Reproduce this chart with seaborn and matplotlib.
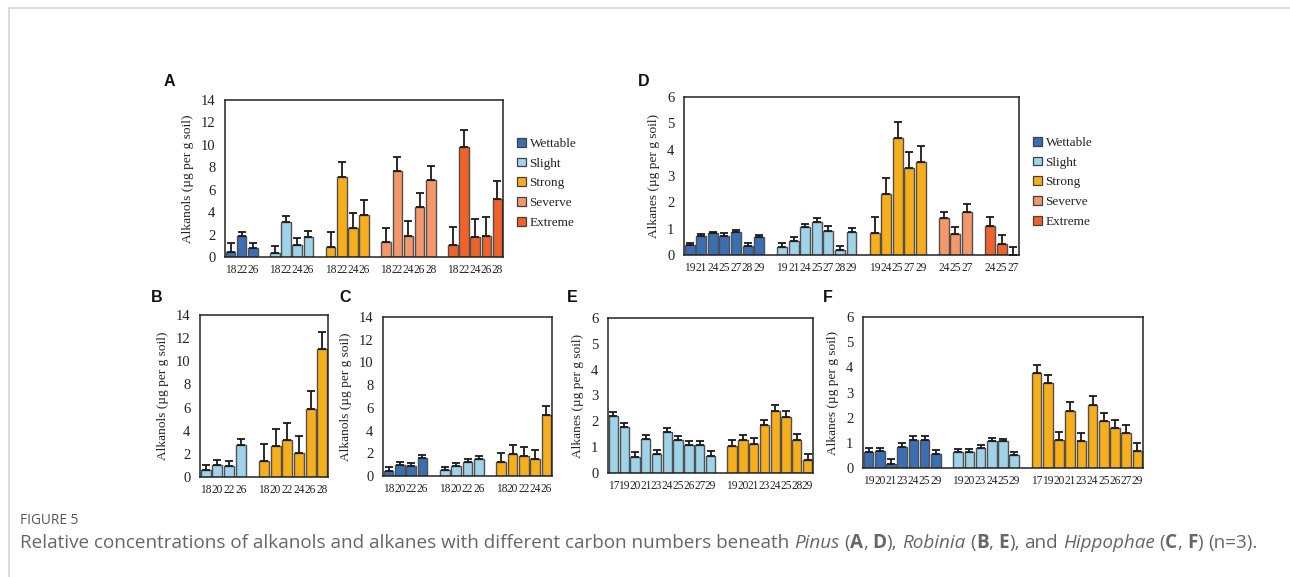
import numpy as np
import pandas as pd
import matplotlib
matplotlib.use("Agg")
import matplotlib.pyplot as plt
from matplotlib.patches import Patch
from matplotlib.lines import Line2D
import seaborn as sns

# ---------------- data ----------------
GROUPS = ["Wettable", "Slight", "Strong", "Severve", "Extreme"]
COLORS = ["#3b6fb3", "#9fd3ea", "#f6ae1c", "#f4976b", "#ef6229"]

# Panel A: alkanols, Pinus
a_wet_c = ["18", "22", "26"]
a_wet_v = [0.47, 1.84, 0.80]
a_wet_e = [0.78, 0.41, 0.42]
a_sli_c = ["18", "22", "24", "26"]
a_sli_v = [0.39, 3.12, 1.07, 1.75]
a_sli_e = [0.56, 0.56, 0.62, 0.59]
a_str_c = ["18", "22", "24", "26"]
a_str_v = [0.92, 7.15, 2.61, 3.77]
a_str_e = [1.31, 1.34, 1.31, 1.33]
a_sev_c = ["18", "22", "24", "26", "28"]
a_sev_v = [1.34, 7.66, 1.90, 4.42, 6.85]
a_sev_e = [1.24, 1.24, 1.28, 1.28, 1.25]
a_ext_c = ["18", "22", "24", "26", "28"]
a_ext_v = [1.07, 9.79, 1.78, 1.90, 5.19]
a_ext_e = [1.63, 1.57, 1.63, 1.63, 1.63]

# Panel D: alkanes, Pinus
d_wet_c = ["19", "21", "24", "25", "27", "28", "29"]
d_wet_v = [0.38, 0.71, 0.82, 0.74, 0.87, 0.34, 0.68]
d_wet_e = [0.09, 0.09, 0.06, 0.09, 0.08, 0.10, 0.08]
d_sli_c = ["19", "21", "24", "25", "27", "28", "29"]
d_sli_v = [0.29, 0.53, 1.05, 1.25, 0.93, 0.18, 0.87]
d_sli_e = [0.15, 0.16, 0.14, 0.15, 0.17, 0.16, 0.15]
d_str_c = ["19", "24", "25", "27", "29"]
d_str_v = [0.83, 2.30, 4.44, 3.32, 3.54]
d_str_e = [0.63, 0.62, 0.61, 0.61, 0.60]
d_sev_c = ["24", "25", "27"]
d_sev_v = [1.40, 0.79, 1.65]
d_sev_e = [0.25, 0.26, 0.27]
d_ext_c = ["24", "25", "27"]
d_ext_v = [1.10, 0.42, 0.00]
d_ext_e = [0.33, 0.34, 0.32]

# Panel B: alkanols, Robinia
b_sli_c = ["18", "20", "22", "26"]
b_sli_v = [0.58, 1.01, 0.98, 2.75]
b_sli_e = [0.49, 0.44, 0.44, 0.52]
b_str_c = ["18", "20", "22", "24", "26", "28"]
b_str_v = [1.39, 2.69, 3.18, 2.08, 5.86, 11.06]
b_str_e = [1.44, 1.47, 1.50, 1.45, 1.54, 1.44]

# Panel C: alkanols, Hippophae
c_wet_c = ["18", "20", "22", "26"]
c_wet_v = [0.44, 0.97, 0.91, 1.58]
c_wet_e = [0.38, 0.23, 0.26, 0.24]
c_sli_c = ["18", "20", "22", "26"]
c_sli_v = [0.50, 0.91, 1.23, 1.47]
c_sli_e = [0.26, 0.23, 0.27, 0.26]
c_str_c = ["18", "20", "22", "24", "26"]
c_str_v = [1.20, 1.94, 1.76, 1.50, 5.40]
c_str_e = [0.80, 0.82, 0.82, 0.79, 0.76]

# Panel E: alkanes, Robinia
e_sli_c = ["17", "19", "20", "21", "23", "24", "25", "26", "27", "29"]
e_sli_v = [2.21, 1.78, 0.63, 1.32, 0.72, 1.59, 1.26, 1.07, 1.07, 0.66]
e_sli_e = [0.15, 0.17, 0.18, 0.15, 0.18, 0.15, 0.16, 0.18, 0.18, 0.18]
e_str_c = ["19", "20", "21", "23", "24", "25", "28", "29"]
e_str_v = [1.05, 1.26, 1.11, 1.85, 2.39, 2.17, 1.29, 0.49]
e_str_e = [0.24, 0.22, 0.23, 0.21, 0.23, 0.22, 0.23, 0.25]

# Panel F: alkanes, Hippophae
f_wet_c = ["19", "20", "21", "23", "24", "25", "29"]
f_wet_v = [0.64, 0.66, 0.17, 0.85, 1.13, 1.11, 0.56]
f_wet_e = [0.15, 0.15, 0.17, 0.16, 0.15, 0.16, 0.17]
f_sli_c = ["19", "20", "23", "24", "25", "29"]
f_sli_v = [0.64, 0.64, 0.79, 1.07, 1.06, 0.52]
f_sli_e = [0.10, 0.10, 0.11, 0.12, 0.11, 0.10]
f_str_c = ["17", "19", "20", "21", "23", "24", "25", "26", "27", "29"]
f_str_v = [3.76, 3.39, 1.10, 2.28, 1.07, 2.52, 1.87, 1.59, 1.39, 0.66]
f_str_e = [0.35, 0.31, 0.33, 0.34, 0.33, 0.33, 0.33, 0.33, 0.33, 0.35]

YLAB_OL = "Alkanols (µg per g soil)"
YLAB_AN = "Alkanes (µg per g soil)"

# ---------------- style ----------------
W, H = 1290, 577
DPI = 100
sns.set_theme(style="white")
SERIF = ["Liberation Serif", "DejaVu Serif"]
plt.rcParams["font.family"] = SERIF
plt.rcParams["axes.linewidth"] = 1.0

fig = plt.figure(figsize=(W / DPI, H / DPI), dpi=DPI)
fig.patch.set_facecolor("white")
pal = dict(zip(GROUPS, COLORS))


def ax_at(left, right, top, bottom):
    return fig.add_axes([left / W, 1 - bottom / H, (right - left) / W, (bottom - top) / H])


def panel(ax, series, ymax, ystep, ylabel):
    rows, order, labels = [], [], []
    for k, (g, cs, vs, es) in enumerate(series):
        if k > 0:
            order.append(f"gap{k}")
            labels.append("")
        for c, v, e in zip(cs, vs, es):
            key = f"{g}-{c}"
            rows.append(dict(key=key, value=v, err=e, group=g))
            order.append(key)
            labels.append(c)
    df = pd.DataFrame(rows)
    sns.barplot(data=df, x="key", y="value", hue="group", order=order,
                hue_order=GROUPS, palette=pal, dodge=False, width=0.86,
                saturation=1, edgecolor="#505050", linewidth=1.0,
                legend=False, ax=ax, zorder=2)
    pos = [order.index(k) for k in df["key"]]
    ax.errorbar(pos, df["value"], yerr=[np.zeros(len(df)), df["err"]], fmt="none",
                ecolor="#1a1a1a", elinewidth=1.3, capsize=2.8, capthick=1.3, zorder=3)
    ax.set_xlim(-0.5, len(order) - 0.5)
    ax.set_ylim(0, ymax)
    ticks = np.arange(0, ymax + 0.01, ystep)
    ax.set_yticks(ticks)
    ax.set_yticklabels([f"{t:g}" for t in ticks])
    ax.set_xticks(range(len(order)))
    ax.set_xticklabels(labels)
    ax.tick_params(axis="x", length=0, pad=5, labelsize=8.3, colors="#222222")
    ax.tick_params(axis="y", length=0, pad=7, labelsize=10.5, colors="#222222")
    ax.set_xlabel("")
    ax.set_ylabel(ylabel, fontsize=9.6, color="#222222", labelpad=5)
    for s in ax.spines.values():
        s.set_color("#222222")
        s.set_linewidth(1.1)
        s.set_visible(True)
    ax.set_facecolor("white")


axA = ax_at(225, 503, 100, 257)
panel(axA, [("Wettable", a_wet_c, a_wet_v, a_wet_e),
            ("Slight", a_sli_c, a_sli_v, a_sli_e),
            ("Strong", a_str_c, a_str_v, a_str_e),
            ("Severve", a_sev_c, a_sev_v, a_sev_e),
            ("Extreme", a_ext_c, a_ext_v, a_ext_e)], 14, 2, YLAB_OL)

axD = ax_at(684, 1019, 97, 255)
panel(axD, [("Wettable", d_wet_c, d_wet_v, d_wet_e),
            ("Slight", d_sli_c, d_sli_v, d_sli_e),
            ("Strong", d_str_c, d_str_v, d_str_e),
            ("Severve", d_sev_c, d_sev_v, d_sev_e),
            ("Extreme", d_ext_c, d_ext_v, d_ext_e)], 6, 1, YLAB_AN)

axB = ax_at(200, 328, 315, 477)
panel(axB, [("Slight", b_sli_c, b_sli_v, b_sli_e),
            ("Strong", b_str_c, b_str_v, b_str_e)], 14, 2, YLAB_OL)

axC = ax_at(383, 552, 317, 476)
panel(axC, [("Wettable", c_wet_c, c_wet_v, c_wet_e),
            ("Slight", c_sli_c, c_sli_v, c_sli_e),
            ("Strong", c_str_c, c_str_v, c_str_e)], 14, 2, YLAB_OL)

axE = ax_at(608, 813, 318, 473)
panel(axE, [("Slight", e_sli_c, e_sli_v, e_sli_e),
            ("Strong", e_str_c, e_str_v, e_str_e)], 6, 1, YLAB_AN)

axF = ax_at(863, 1143, 317, 468)
panel(axF, [("Wettable", f_wet_c, f_wet_v, f_wet_e),
            ("Slight", f_sli_c, f_sli_v, f_sli_e),
            ("Strong", f_str_c, f_str_v, f_str_e)], 6, 1, YLAB_AN)

# legends
handles = [Patch(facecolor=c, edgecolor="#404040", linewidth=0.9, label=g)
           for g, c in zip(GROUPS, COLORS)]
for lx, ly in [(517, 138), (1033, 137)]:
    fig.legend(handles=handles, loc="upper left", bbox_to_anchor=(lx / W, 1 - ly / H),
               frameon=False, fontsize=9.5, handlelength=0.65, handleheight=0.65,
               handletextpad=0.3, labelspacing=0.58, borderpad=0, borderaxespad=0,
               labelcolor="#222222")

# panel letters
for txt, x, y in [("A", 164, 82), ("D", 638, 82), ("B", 151, 298),
                  ("C", 339, 298), ("E", 567, 298), ("F", 823, 298)]:
    fig.text(x / W, 1 - y / H, txt, fontsize=11.5, fontweight="bold",
             family=["Liberation Sans", "DejaVu Sans"], va="center", ha="left", color="#111111")

# card frame
fig.add_artist(Line2D([9 / W, 1], [1 - 8 / H, 1 - 8 / H], color="#d6d6d6", lw=1.2))
fig.add_artist(Line2D([9 / W, 9 / W], [0, 1 - 8 / H], color="#d6d6d6", lw=1.2))

# caption
CAP = ["Open Sans", "DejaVu Sans"]
fig.text(20 / W, 1 - 521 / H, "FIGURE 5", fontsize=9.8, family=CAP, color="#555555",
         va="center", ha="left")

segments = [
    ("Relative concentrations of alkanols and alkanes with different carbon numbers beneath", "normal", "normal"),
    (" ", "normal", "normal"), ("Pinus", "italic", "normal"), (" ", "normal", "normal"),
    ("(", "normal", "normal"), ("A", "normal", "bold"), (",", "normal", "normal"), (" ", "normal", "normal"),
    ("D", "normal", "bold"), ("),", "normal", "normal"), (" ", "normal", "normal"),
    ("Robinia", "italic", "normal"), (" ", "normal", "normal"),
    ("(", "normal", "normal"), ("B", "normal", "bold"), (",", "normal", "normal"), (" ", "normal", "normal"),
    ("E", "normal", "bold"), ("),", "normal", "normal"), (" ", "normal", "normal"),
    ("and", "normal", "normal"), (" ", "normal", "normal"),
    ("Hippophae", "italic", "normal"), (" ", "normal", "normal"),
    ("(", "normal", "normal"), ("C", "normal", "bold"), (",", "normal", "normal"), (" ", "normal", "normal"),
    ("F", "normal", "bold"), (")", "normal", "normal"), (" ", "normal", "normal"),
    ("(n=3).", "normal", "normal"),
]
renderer = fig.canvas.get_renderer()
CAPFS = 13.6


def width_of(s, style, weight):
    t = fig.text(0, 0, s, fontsize=CAPFS, family=CAP, style=style, weight=weight)
    w = t.get_window_extent(renderer).width
    t.remove()
    return w


space_w = width_of("x x", "normal", "normal") - width_of("xx", "normal", "normal")
x = 20.0
for s, style, weight in segments:
    if s == " ":
        x += space_w
        continue
    t = fig.text(x / W, 1 - 543 / H, s, fontsize=CAPFS, family=CAP, style=style,
                 weight=weight, color="#666666", va="center", ha="left")
    x += t.get_window_extent(renderer).width

fig.savefig("out.png", dpi=DPI, facecolor="white")
